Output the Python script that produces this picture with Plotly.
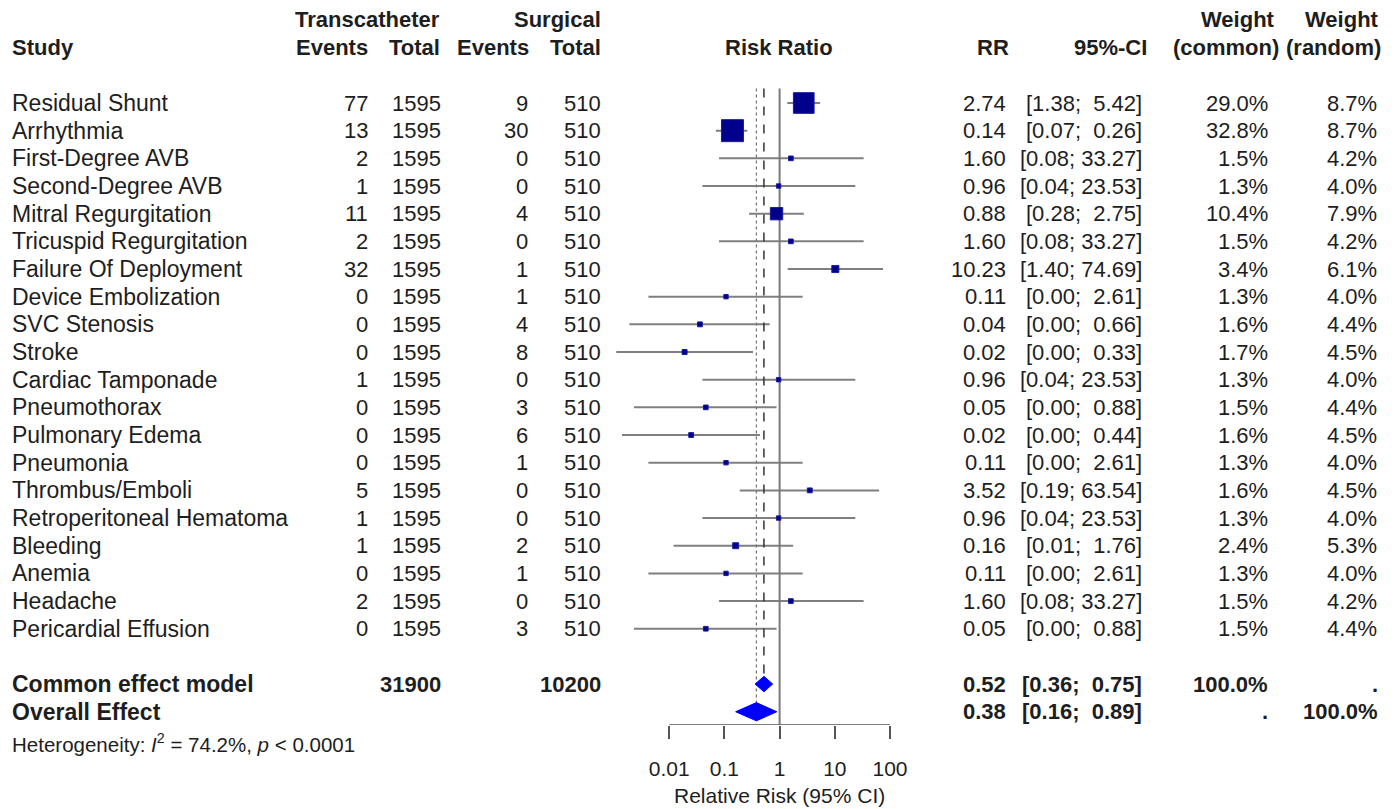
import math
import plotly.graph_objects as go

W, H = 1397, 809

# ---------------- data ----------------
studies = ["Residual Shunt", "Arrhythmia", "First-Degree AVB", "Second-Degree AVB",
           "Mitral Regurgitation", "Tricuspid Regurgitation", "Failure Of Deployment",
           "Device Embolization", "SVC Stenosis", "Stroke", "Cardiac Tamponade",
           "Pneumothorax", "Pulmonary Edema", "Pneumonia", "Thrombus/Emboli",
           "Retroperitoneal Hematoma", "Bleeding", "Anemia", "Headache",
           "Pericardial Effusion"]
t_events = [77, 13, 2, 1, 11, 2, 32, 0, 0, 0, 1, 0, 0, 0, 5, 1, 1, 0, 2, 0]
t_total = [1595, 1595, 1595, 1595, 1595, 1595, 1595, 1595, 1595, 1595,
           1595, 1595, 1595, 1595, 1595, 1595, 1595, 1595, 1595, 1595]
s_events = [9, 30, 0, 0, 4, 0, 1, 1, 4, 8, 0, 3, 6, 1, 0, 0, 2, 1, 0, 3]
s_total = [510, 510, 510, 510, 510, 510, 510, 510, 510, 510,
           510, 510, 510, 510, 510, 510, 510, 510, 510, 510]
rr = [2.74, 0.14, 1.60, 0.96, 0.88, 1.60, 10.23, 0.11, 0.04, 0.02,
      0.96, 0.05, 0.02, 0.11, 3.52, 0.96, 0.16, 0.11, 1.60, 0.05]
ci_low = [1.38, 0.07, 0.08, 0.04, 0.28, 0.08, 1.40, 0.00, 0.00, 0.00,
          0.04, 0.00, 0.00, 0.00, 0.19, 0.04, 0.01, 0.00, 0.08, 0.00]
ci_up = [5.42, 0.26, 33.27, 23.53, 2.75, 33.27, 74.69, 2.61, 0.66, 0.33,
         23.53, 0.88, 0.44, 2.61, 63.54, 23.53, 1.76, 2.61, 33.27, 0.88]
# unrounded values as drawn in the plot
rr_mark = [2.74, 0.14, 1.60, 0.96, 0.88, 1.60, 10.23, 0.107, 0.036, 0.019,
           0.96, 0.046, 0.025, 0.107, 3.52, 0.96, 0.16, 0.107, 1.60, 0.046]
low_mark = [1.38, 0.07, 0.08, 0.04, 0.28, 0.08, 1.40, 0.0042, 0.0019, 0.0011,
            0.04, 0.0023, 0.0014, 0.0042, 0.19, 0.04, 0.012, 0.0042, 0.08, 0.0023]
w_common = [29.0, 32.8, 1.5, 1.3, 10.4, 1.5, 3.4, 1.3, 1.6, 1.7,
            1.3, 1.5, 1.6, 1.3, 1.6, 1.3, 2.4, 1.3, 1.5, 1.5]
w_random = [8.7, 8.7, 4.2, 4.0, 7.9, 4.2, 6.1, 4.0, 4.4, 4.5,
            4.0, 4.4, 4.5, 4.0, 4.5, 4.0, 5.3, 4.0, 4.2, 4.4]

summary_labels = ["Common effect model", "Overall Effect"]
summary_rr = [0.52, 0.38]
summary_low = [0.36, 0.16]
summary_up = [0.75, 0.89]
summary_w_common = ["100.0%", "."]
summary_w_random = [".", "100.0%"]
total_t = 31900
total_s = 10200
heterogeneity = "Heterogeneity: <i>I</i><sup>2</sup> = 74.2%, <i>p</i> &lt; 0.0001"

tick_vals = [0.01, 0.1, 1, 10, 100]
tick_text = ["0.01", "0.1", "1", "10", "100"]
x_title = "Relative Risk (95% CI)"

# ---------------- geometry ----------------
ROW0_PX = 103.0
ROW_STEP = 27.67
AXIS_PX = 725.0
ONE_PX = 779.6
DECADE_PX = 55.2


def rows_from_px(py):
    return (py - ROW0_PX) / ROW_STEP


def xp(px):
    return px / W


y_top = rows_from_px(0)
y_bot = rows_from_px(AXIS_PX)
x_lo = -ONE_PX / DECADE_PX
x_hi = (W - ONE_PX) / DECADE_PX

n = len(studies)
rows = list(range(n))
row_common = n + 1
row_overall = n + 2

FONT = "Liberation Sans, Arial, Helvetica, sans-serif"
TXT = "#1e1e1e"
FS = 22
FS_LAB = 23
NB = "\u00a0"

fig = go.Figure()

# CI lines
lx, ly = [], []
for i in rows:
    lx += [low_mark[i], ci_up[i], None]
    ly += [i, i, None]
fig.add_trace(go.Scatter(x=lx, y=ly, mode="lines",
                         line=dict(color="#7f7f7f", width=2), hoverinfo="skip"))

# reference lines
h_c = 0.28
h_r = 0.33
fig.add_trace(go.Scatter(x=[1, 1], y=[-0.52, y_bot], mode="lines",
                         line=dict(color="#7a7a7a", width=2), hoverinfo="skip"))
fig.add_trace(go.Scatter(x=[summary_rr[0], summary_rr[0]], y=[-0.52, row_common - h_c],
                         mode="lines", line=dict(color="#333333", width=1.5, dash="dash"),
                         hoverinfo="skip"))
fig.add_trace(go.Scatter(x=[summary_rr[1], summary_rr[1]], y=[-0.52, row_overall - h_r],
                         mode="lines", line=dict(color="#777777", width=1.3, dash="dot"),
                         hoverinfo="skip"))

# squares
sizes = [22.0 * math.sqrt(w / 32.8) for w in w_common]
fig.add_trace(go.Scatter(x=rr_mark, y=rows, mode="markers",
                         marker=dict(symbol="square", size=sizes, color="#00008B",
                                     opacity=1, line=dict(color="#1c1ca0", width=1)),
                         hoverinfo="skip"))

# diamonds
for k, (r, hh) in enumerate([(row_common, h_c), (row_overall, h_r)]):
    fig.add_trace(go.Scatter(
        x=[summary_low[k], summary_rr[k], summary_up[k], summary_rr[k], summary_low[k]],
        y=[r, r - hh, r, r + hh, r], mode="lines", fill="toself",
        fillcolor="#0000FF", line=dict(color="#0000FF", width=1), hoverinfo="skip"))

# axis line
fig.add_trace(go.Scatter(x=[tick_vals[0], tick_vals[-1]], y=[y_bot, y_bot], mode="lines",
                         line=dict(color="#555555", width=1.5), cliponaxis=False,
                         hoverinfo="skip"))

ann = []


def add(text, px, row, anchor="right", bold=False, size=FS, yref="y"):
    t = f"<b>{text}</b>" if bold else text
    ann.append(dict(text=t, x=xp(px), y=row, xref="paper", yref=yref,
                    xanchor=anchor, yanchor="middle", showarrow=False,
                    font=dict(family=FONT, size=size, color=TXT)))


# headers
add("Study", 10, -2, "left", True)
add("Transcatheter", 442, -3, "right", True)
add("Surgical", 603, -3, "right", True)
add("Events", 370, -2, "right", True)
add("Total", 442, -2, "right", True)
add("Events", 531, -2, "right", True)
add("Total", 603, -2, "right", True)
add("Risk Ratio", 779, -2, "center", True)
add("RR", 1011, -2, "right", True)
add("95%-CI", 1149, -2, "right", True)
add("Weight", 1277, -3, "right", True)
add("(common)", 1281, -2, "right", True)
add("Weight", 1381, -3, "right", True)
add("(random)", 1383, -2, "right", True)


def ci_str(lo, up):
    return ("[" + f"{lo:.2f}" + ";" + NB + f"{up:.2f}".rjust(5).replace(" ", NB) + "]")


for i in rows:
    add(studies[i], 10, i, "left", size=FS_LAB)
    add(str(t_events[i]), 370, i)
    add(str(t_total[i]), 443, i)
    add(str(s_events[i]), 530, i)
    add(str(s_total[i]), 603, i)
    add(f"{rr[i]:.2f}", 1008, i)
    add(ci_str(ci_low[i], ci_up[i]), 1144, i)
    add(f"{w_common[i]:.1f}%", 1270, i)
    add(f"{w_random[i]:.1f}%", 1379, i)

for k, r in enumerate([row_common, row_overall]):
    add(summary_labels[k], 10, r, "left", True, size=FS_LAB)
    add(f"{summary_rr[k]:.2f}", 1008, r, "right", True)
    add(ci_str(summary_low[k], summary_up[k]), 1144, r, "right", True)
    add(summary_w_common[k], 1270, r, "right", True)
    add(summary_w_random[k], 1380, r, "right", True)
add(str(total_t), 443, row_common, "right", True)
add(str(total_s), 603, row_common, "right", True)
add(heterogeneity, 10, 1 - 743 / H, "left", False, 20.5, yref="paper")

ann.append(dict(text=x_title, x=xp(ONE_PX), y=1 - 795 / H, xref="paper", yref="paper",
                xanchor="center", yanchor="middle", showarrow=False,
                font=dict(family=FONT, size=21, color=TXT)))

fig.update_layout(
    width=W, height=H, margin=dict(l=0, r=0, t=0, b=0),
    paper_bgcolor="white", plot_bgcolor="white", showlegend=False,
    annotations=ann,
    xaxis=dict(type="log", range=[x_lo, x_hi], domain=[0, 1],
               tickvals=tick_vals, ticktext=tick_text, ticks="outside",
               ticklen=13, tickwidth=1.5, tickcolor="#555555",
               showline=False, showgrid=False, zeroline=False,
               tickfont=dict(family=FONT, size=21, color=TXT),
               ticklabelstandoff=12),
    yaxis=dict(range=[y_bot, y_top], domain=[1 - AXIS_PX / H, 1], visible=False,
               showgrid=False, zeroline=False),
)

fig.write_html("out.html")
